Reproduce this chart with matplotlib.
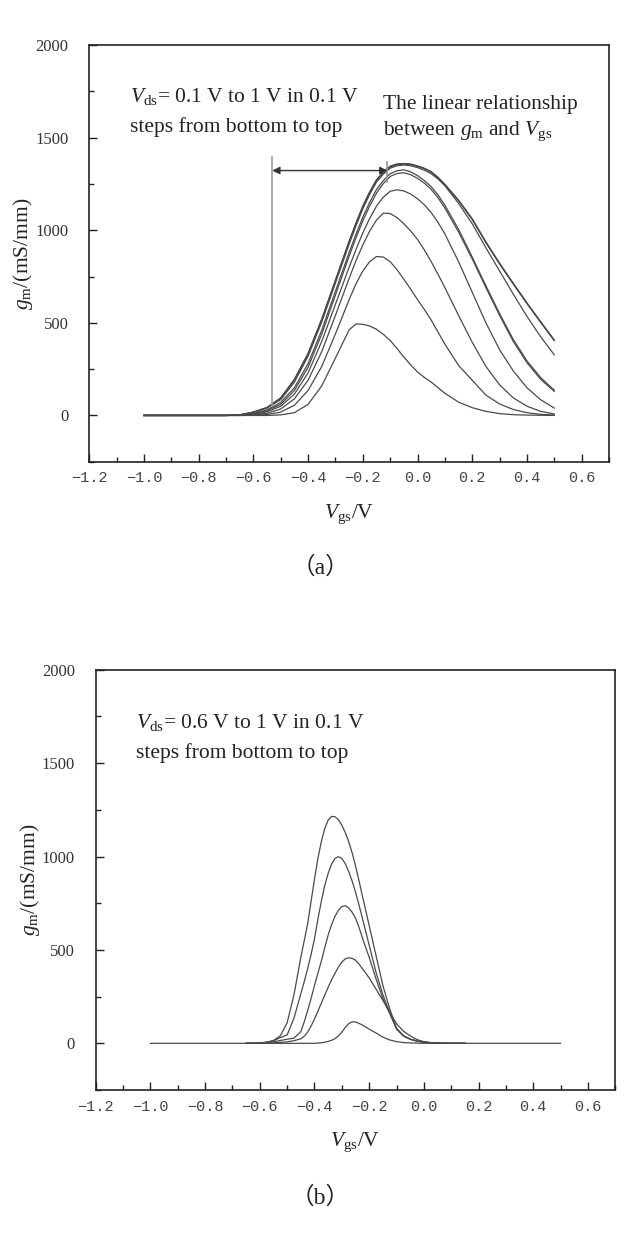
import numpy as np
import matplotlib
matplotlib.use("Agg")
import matplotlib.pyplot as plt
from matplotlib.ticker import MultipleLocator, FixedLocator

plt.rcParams['font.family'] = ['Liberation Serif', 'Noto Sans CJK SC']
plt.rcParams['mathtext.fontset'] = 'custom'
plt.rcParams['mathtext.rm'] = 'Liberation Serif'
plt.rcParams['mathtext.it'] = 'Liberation Serif:italic'

# ---------------- data: panel (a) ----------------
vgs_a = [-1.0, -0.70, -0.65, -0.60, -0.55, -0.50, -0.45, -0.40, -0.35, -0.30, -0.25,
         -0.225, -0.20, -0.175, -0.15, -0.125, -0.10, -0.075, -0.05, -0.025, 0.00,
         0.025, 0.05, 0.075, 0.10, 0.15, 0.20, 0.25, 0.30, 0.35, 0.40, 0.45, 0.50]
gm_a_01 = [0, 0, 0, 0, 0, 3, 15, 60, 160, 310, 462, 494, 492, 483, 465, 438, 405, 362,
           315, 273, 235, 205, 180, 150, 120, 72, 42, 22, 10, 4, 2, 1, 0]
gm_a_02 = [0, 0, 0, 1, 5, 18, 55, 135, 265, 440, 625, 710, 780, 830, 858, 855, 830, 787,
           735, 682, 625, 572, 515, 450, 385, 270, 190, 110, 62, 32, 15, 6, 2]
gm_a_03 = [0, 0, 0, 2, 12, 35, 90, 190, 345, 540, 740, 835, 920, 995, 1055, 1092, 1090,
           1068, 1035, 996, 950, 893, 830, 762, 690, 540, 395, 265, 165, 95, 50, 22, 8]
gm_a_04 = [0, 0, 1, 4, 20, 50, 115, 230, 400, 600, 800, 895, 985, 1063, 1130, 1178, 1210,
           1218, 1212, 1195, 1170, 1137, 1095, 1042, 980, 830, 665, 500, 355, 240, 150, 85, 40]
gm_a_05 = [0, 0, 2, 8, 25, 60, 135, 260, 440, 650, 860, 958, 1050, 1130, 1200, 1252, 1290,
           1306, 1310, 1300, 1280, 1254, 1220, 1175, 1120, 990, 845, 690, 540, 400, 285, 195, 130]
gm_a_06 = [0, 0, 2, 10, 30, 70, 150, 280, 460, 670, 880, 978, 1070, 1150, 1220, 1268, 1305,
           1321, 1326, 1315, 1295, 1268, 1235, 1190, 1135, 1005, 855, 700, 550, 410, 295, 205, 136]
gm_a_07 = [0, 0, 3, 16, 40, 85, 180, 320, 505, 715, 925, 1023, 1115, 1193, 1260, 1303, 1335,
           1348, 1352, 1348, 1338, 1324, 1305, 1276, 1240, 1145, 1035, 905, 780, 655, 535, 425, 327]
gm_a_08 = [0, 0, 3, 18, 42, 92, 190, 330, 515, 725, 935, 1033, 1125, 1202, 1268, 1310, 1342,
           1354, 1357, 1354, 1345, 1332, 1314, 1283, 1245, 1160, 1058, 933, 818, 710, 604, 503, 404]
gm_a_09 = [0, 0, 3, 18, 42, 94, 193, 333, 518, 728, 938, 1036, 1128, 1204, 1270, 1312, 1344,
           1356, 1359, 1356, 1346, 1333, 1315, 1284, 1246, 1161, 1060, 935, 820, 712, 606, 505, 405]
gm_a_10 = [0, 0, 3, 18, 43, 95, 195, 335, 520, 730, 940, 1038, 1130, 1206, 1272, 1314, 1346,
           1358, 1360, 1357, 1347, 1334, 1316, 1285, 1247, 1162, 1061, 936, 821, 713, 607, 506, 406]
curves_a = [gm_a_01, gm_a_02, gm_a_03, gm_a_04, gm_a_05,
            gm_a_06, gm_a_07, gm_a_08, gm_a_09, gm_a_10]

# linear-region marker (panel a)
lin_start_v = -0.531
lin_end_v = -0.11
lin_start_span = [57, 1394]
lin_end_span = [1262, 1370]
lin_arrow_gm = 1322

# ---------------- data: panel (b) ----------------
vgs_b = [-0.650, -0.625, -0.600, -0.575, -0.550, -0.525, -0.500, -0.475, -0.450,
         -0.4375, -0.425, -0.4125, -0.400, -0.3875, -0.375, -0.3625, -0.350, -0.3375,
         -0.325, -0.3125, -0.300, -0.2875, -0.275, -0.2625, -0.250, -0.2375, -0.225,
         -0.2125, -0.200, -0.175, -0.150, -0.125, -0.100, -0.075, -0.050, -0.025,
         0.000, 0.025, 0.050, 0.075, 0.100, 0.125, 0.150]
gm_b_06 = [0, 0, 0, 0, 0, 0, 0, 0, 0,
           0, 0, 0, 0, 1, 3, 6, 10, 16, 25, 40, 60, 85, 105, 115, 114, 107, 98, 87,
           76, 55, 33, 18, 9, 4, 2, 1, 0, 0, 0, 0, 0, 0, 0]
gm_b_07 = [0, 0, 0, 1, 3, 5, 8, 14, 24,
           38, 60, 92, 130, 172, 215, 258, 300, 340, 375, 408, 435, 452, 458, 455, 445,
           425, 400, 376, 350, 290, 230, 165, 105, 65, 40, 20, 9, 4, 2, 1, 0, 0, 0]
gm_b_08 = [0, 0, 1, 3, 8, 15, 22, 28, 62,
           115, 175, 240, 310, 375, 440, 512, 580, 635, 680, 712, 732, 737, 725, 702,
           670, 622, 565, 512, 460, 345, 240, 160, 80, 40, 22, 12, 6, 3, 1, 0, 0, 0, 0]
gm_b_09 = [0, 1, 2, 6, 14, 30, 45, 135, 265,
           330, 400, 475, 560, 665, 760, 845, 910, 960, 990, 999, 990, 962, 920, 870,
           810, 742, 670, 598, 525, 380, 260, 165, 75, 40, 22, 12, 6, 3, 1, 0, 0, 0, 0]
gm_b_10 = [0, 1, 2, 6, 15, 40, 110, 260, 460,
           550, 640, 760, 880, 990, 1080, 1150, 1195, 1215, 1213, 1197, 1168, 1128,
           1080, 1020, 950, 872, 790, 710, 630, 470, 310, 185, 80, 40, 22, 12, 6, 3, 1,
           0, 0, 0, 0]
vgs_b_full_ends = [-1.0, 0.5]

xticks = [-1.2, -1.0, -0.8, -0.6, -0.4, -0.2, 0.0, 0.2, 0.4, 0.6]
yticks = [0, 500, 1000, 1500, 2000]

LINE = '#4a4a4a'
INK = '#222222'

fig = plt.figure(figsize=(6.4, 12.35), dpi=100)
ax1 = fig.add_axes([0.1394, 0.6261, 0.8122, 0.3375])
ax2 = fig.add_axes([0.1495, 0.1174, 0.8120, 0.3403])


def style(ax):
    ax.set_xlim(-1.2, 0.7)
    ax.set_ylim(-250, 2000)
    ax.xaxis.set_major_locator(FixedLocator(xticks))
    ax.xaxis.set_minor_locator(MultipleLocator(0.1))
    ax.yaxis.set_major_locator(FixedLocator(yticks))
    ax.yaxis.set_minor_locator(MultipleLocator(250))
    ax.set_xticklabels([("\u2212" if v < 0 else "") + f"{abs(v):.1f}" for v in xticks],
                       family='Liberation Mono', fontsize=11, color='#444444')
    ax.set_yticklabels([str(v) for v in yticks], fontsize=12, color='#333333')
    ax.tick_params(which='both', direction='in', top=False, right=False, width=1.0,
                   color=INK)
    ax.tick_params(which='major', length=6)
    ax.tick_params(which='minor', length=3.5)
    ax.tick_params(axis='x', which='major', pad=7)
    ax.tick_params(axis='y', which='major', pad=15)
    for s in ax.spines.values():
        s.set_linewidth(1.2)
        s.set_color(INK)
    ax.text(0.5, -0.125, r"$V_{\rm gs}$/V", transform=ax.transAxes, ha='center',
            va='center', fontsize=15.5, color=INK)
    ax.text(-0.127, 0.5, r"$g_{\rm m}$/(mS/mm)", transform=ax.transAxes, ha='center',
            va='center', rotation=90, fontsize=15.5, color=INK)


style(ax1)
style(ax2)

# panel (a)
for c in curves_a:
    ax1.plot(vgs_a, c, color=LINE, lw=0.9)
ax1.plot([lin_start_v, lin_start_v], lin_start_span, color='#9a9a9a', lw=1.2)
ax1.plot([lin_end_v, lin_end_v], lin_end_span, color='#9a9a9a', lw=1.2)
ax1.annotate('', xy=(lin_start_v, lin_arrow_gm), xytext=(lin_end_v, lin_arrow_gm),
             arrowprops=dict(arrowstyle='<|-|>', color='#333333', lw=1.0,
                             mutation_scale=11, shrinkA=0, shrinkB=0))
ax1.text(-1.051, 1722, r"$V_{\rm ds}$= 0.1 V to 1 V in 0.1 V", fontsize=15.5,
         va='center', ha='left', color=INK)
ax1.text(-1.051, 1556, "steps from bottom to top", fontsize=15.5, va='center',
         ha='left', color=INK)
ax1.text(-0.125, 1677, "The linear relationship", fontsize=15.5, va='center',
         ha='left', color=INK)
ax1.text(-0.125, 1533, r"between $g_{\rm m}$ and $V_{\rm gs}$", fontsize=15.5,
         va='center', ha='left', color=INK)

# panel (b)
ax2.plot([vgs_b_full_ends[0]] + vgs_b + [vgs_b_full_ends[1]], [0] + gm_b_06 + [0],
         color=LINE, lw=0.9)
for c in [gm_b_07, gm_b_08, gm_b_09, gm_b_10]:
    ax2.plot(vgs_b, c, color=LINE, lw=0.9)
ax2.text(-1.051, 1718, r"$V_{\rm ds}$= 0.6 V to 1 V in 0.1 V", fontsize=15.5,
         va='center', ha='left', color=INK)
ax2.text(-1.051, 1552, "steps from bottom to top", fontsize=15.5, va='center',
         ha='left', color=INK)

fig.text(0.5, 1 - 567.5 / 1235, "（a）", ha='center', va='center', fontsize=17,
         color=INK)
fig.text(0.5, 1 - 1198 / 1235, "（b）", ha='center', va='center', fontsize=17,
         color=INK)

fig.savefig("out.png", dpi=100)
